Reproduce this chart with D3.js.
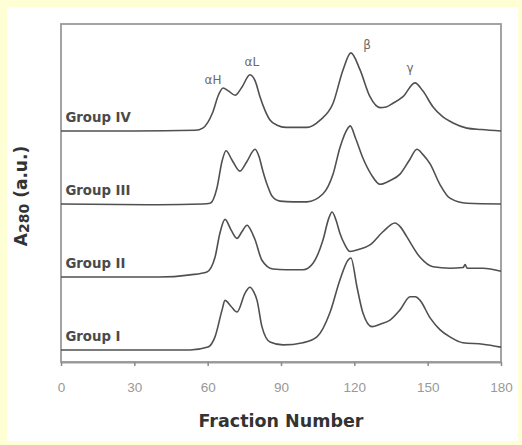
<!DOCTYPE html>
<html>
<head>
<meta charset="utf-8">
<script src="https://cdn.jsdelivr.net/npm/d3@7"></script>
<style>
  body { margin: 0; background: #ffffd6; }
</style>
</head>
<body>
<div class="chart"></div>
<script>
// chart data: [fraction number, absorbance above baseline]
var groupNames = ["Group I", "Group II", "Group III", "Group IV"];
var groupOffsets = [0, 1, 2, 3];

var groupI = [[0,0],[40,0],[52.8,0],[60.1,0.04],[63,0.18],[65.9,0.55],[67.1,0.68],[69.5,0.6],[72,0.52],[75.3,0.78],[77.3,0.86],[78.8,0.8],[80.2,0.68],[82.2,0.32],[85.5,0.11],[90.8,0.07],[99,0.1],[104.7,0.18],[110,0.51],[114.1,0.96],[117.4,1.23],[118.6,1.26],[121.1,0.86],[123.5,0.51],[127.2,0.32],[131,0.36],[134.6,0.41],[138.7,0.55],[142.8,0.73],[145,0.73],[146.9,0.68],[151,0.44],[155,0.28],[159.1,0.18],[164.4,0.1],[172.6,0.08],[180,0.04]];

var groupII = [[0,0],[40,0],[52.8,0.03],[59.7,0.07],[63,0.27],[65,0.6],[67.1,0.79],[69.5,0.65],[72,0.53],[74,0.62],[76.1,0.71],[78,0.62],[79.4,0.51],[82.2,0.23],[86.7,0.11],[92,0.1],[99,0.1],[103.1,0.19],[107.2,0.51],[109.5,0.8],[110.9,0.89],[112.5,0.78],[114.1,0.6],[116,0.45],[118.2,0.35],[122,0.38],[126.4,0.44],[131.7,0.62],[136.6,0.74],[139,0.68],[141.5,0.55],[146.9,0.27],[152.2,0.14],[159.1,0.12],[164.5,0.13],[165.3,0.17],[166.2,0.12],[172.6,0.12],[180,0.08]];

var groupIII = [[0,0],[40,-0.01],[58,0],[61,0.01],[63.8,0.22],[65.9,0.59],[67.5,0.73],[70,0.6],[73.2,0.45],[76,0.58],[79.4,0.75],[81,0.65],[82.6,0.45],[84.5,0.25],[86.3,0.11],[89.6,0.04],[95,0.03],[100.6,0.03],[107.2,0.14],[111.3,0.41],[114.1,0.77],[117.4,1.04],[118.3,1.07],[120.5,0.9],[123.5,0.63],[127,0.4],[130.5,0.27],[134.5,0.32],[138.7,0.41],[142.5,0.6],[145.6,0.75],[148,0.68],[151,0.55],[155,0.27],[159.1,0.08],[166.1,0.01],[180,0]];

var groupIV = [[0,0],[30,0],[55,0.01],[58,0.04],[62,0.25],[64.5,0.5],[66.3,0.59],[68.5,0.55],[71.2,0.49],[74,0.6],[77.3,0.77],[79.5,0.68],[81.4,0.47],[83.5,0.28],[85.5,0.15],[88.4,0.08],[92,0.05],[100.6,0.05],[106,0.15],[111.3,0.38],[115.4,0.84],[118.6,1.07],[122.3,0.84],[126.4,0.47],[130.5,0.32],[133,0.33],[135.8,0.38],[139.9,0.47],[144.8,0.66],[148,0.55],[152.2,0.33],[156,0.2],[160.4,0.11],[166,0.04],[172,0.02],[180,0]];

var groupData = [groupI, groupII, groupIII, groupIV];

// peak names, placed in data units
var peakNames = ["\u03b1H", "\u03b1L", "\u03b2", "\u03b3"];
var peakFraction = [62.2, 78.1, 125.2, 142.8];
var peakLevel = [3.70, 3.95, 4.18, 3.86];

var xTicks = [0, 30, 60, 90, 120, 150, 180];

// SIZE & MARGINS
var svgWidth = 522;
var svgHeight = 445;
var margin = { top: 24, right: 21, bottom: 83, left: 61 };
var width = svgWidth - margin.left - margin.right;
var height = svgHeight - margin.top - margin.bottom;

var svg = d3.select(".chart")
  .append("svg")
  .attr("width", svgWidth)
  .attr("height", svgHeight);

// white panel on the yellow page
svg.append("rect")
  .attr("x", 7).attr("y", 7)
  .attr("width", 511).attr("height", 434)
  .attr("fill", "#ffffff");

var chartGroup = svg.append("g")
  .attr("transform", `translate(${margin.left}, ${margin.top})`);

var xScale = d3.scaleLinear().domain([0, 180]).range([0, width]);
var yScale = d3.scaleLinear().domain([-0.164, 4.466]).range([height, 0]);

// frame
chartGroup.append("rect")
  .attr("x", 0).attr("y", 0)
  .attr("width", width).attr("height", height)
  .attr("fill", "none")
  .attr("stroke", "#9a9a9a")
  .attr("stroke-width", 1.8);

// bottom axis
var bottomAxis = d3.axisBottom(xScale)
  .tickValues(xTicks)
  .tickSize(4)
  .tickPadding(16)
  .tickSizeOuter(0);

var xAxis = chartGroup.append("g")
  .attr("transform", `translate(0, ${height})`)
  .call(bottomAxis);

xAxis.select(".domain").attr("stroke", "#9a9a9a").attr("stroke-width", 1.8);
xAxis.selectAll(".tick line").attr("stroke", "#8a8a8a").attr("stroke-width", 1.5);
xAxis.selectAll(".tick text")
  .attr("fill", "#999999")
  .style("font-family", "Liberation Sans, Arial, sans-serif")
  .style("font-size", "13.5px");

// traces
var line = d3.line()
  .x(d => xScale(d[0]))
  .y(d => yScale(d[1]))
  .curve(d3.curveMonotoneX);

groupData.forEach(function(data, i) {
  var shifted = data.map(d => [d[0], d[1] + groupOffsets[i]]);
  chartGroup.append("path")
    .datum(shifted)
    .attr("d", line)
    .attr("fill", "none")
    .attr("stroke", "#505050")
    .attr("stroke-width", 1.6);

  chartGroup.append("text")
    .attr("x", xScale(1.8))
    .attr("y", yScale(groupOffsets[i]) - 9)
    .attr("fill", "#4a4a4a")
    .style("font-family", "DejaVu Sans, sans-serif")
    .style("font-weight", "bold")
    .style("font-size", "13.3px")
    .text(groupNames[i]);
});

// peak labels
chartGroup.selectAll(".peak")
  .data(peakNames)
  .enter()
  .append("text")
  .attr("class", "peak")
  .attr("x", (d, i) => xScale(peakFraction[i]))
  .attr("y", (d, i) => yScale(peakLevel[i]))
  .attr("dy", ".35em")
  .attr("text-anchor", "middle")
  .attr("fill", "#6a6a6a")
  .style("font-family", "DejaVu Sans, sans-serif")
  .style("font-size", "12px")
  .text(d => d);

// x axis title
chartGroup.append("text")
  .attr("x", xScale(90))
  .attr("y", height + 65)
  .attr("text-anchor", "middle")
  .attr("fill", "#333333")
  .style("font-family", "DejaVu Sans, sans-serif")
  .style("font-weight", "bold")
  .style("font-size", "17.5px")
  .text("Fraction Number");

// y axis title
var yTitle = svg.append("text")
  .attr("transform", "translate(27, 196) rotate(-90)")
  .attr("text-anchor", "middle")
  .attr("fill", "#333333")
  .style("font-family", "DejaVu Sans, sans-serif")
  .style("font-weight", "bold")
  .style("font-size", "17px");

yTitle.append("tspan").text("A");
yTitle.append("tspan").attr("dy", 2).style("font-size", "14px").text("280");
yTitle.append("tspan").attr("dy", -2).text(" (a.u.)");
</script>
</body>
</html>
